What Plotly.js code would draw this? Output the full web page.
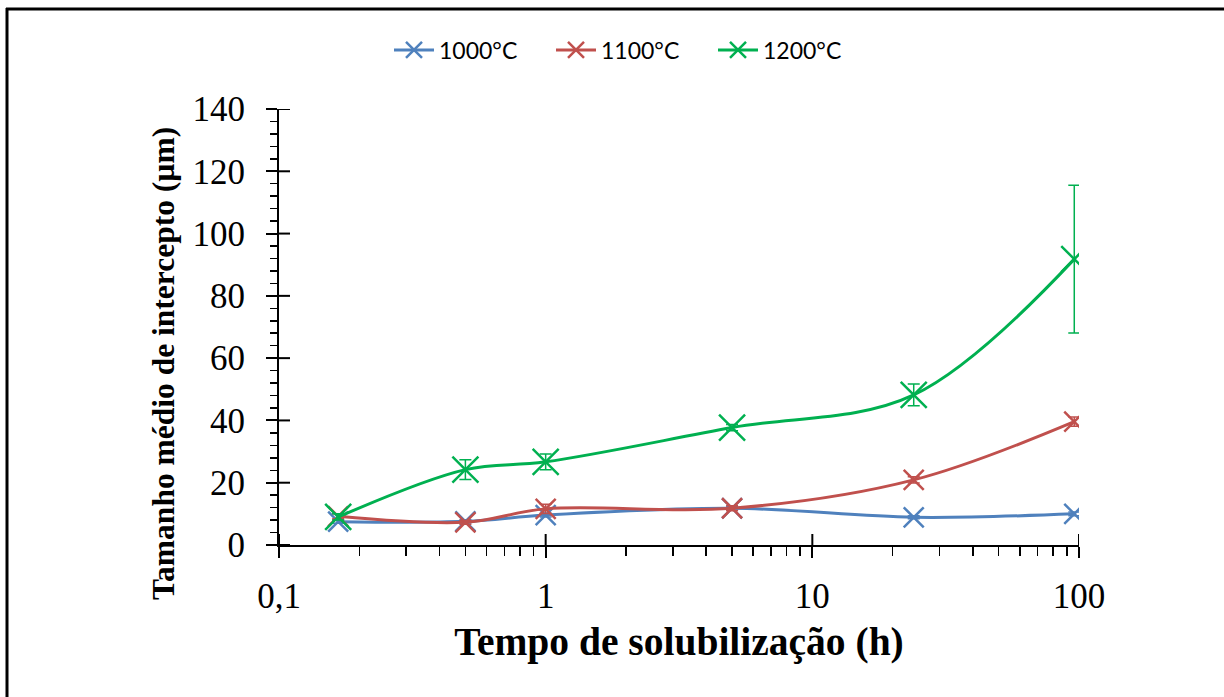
<!DOCTYPE html>
<html>
<head>
<meta charset="utf-8">
<script src="https://cdn.plot.ly/plotly-3.0.1.min.js"></script>
<style>
html,body{margin:0;padding:0;background:#fff;}
#chart{width:1224px;height:697px;}
</style>
</head>
<body>
<div id="chart"></div>
<script>
// Data
var seriesNames = ["1000°C", "1100°C", "1200°C"];
var tempoHoras = [0.1667, 0.5, 1, 5, 24, 96];
var tamanho1000 = [7.5, 7.6, 9.6, 11.8, 8.9, 10.0];
var tamanho1100 = [9.2, 7.3, 11.6, 11.8, 20.9, 39.6];
var tamanho1200 = [9.0, 24.2, 26.7, 37.7, 48.2, 91.8];
var erro1000 = [0.5, 0.5, 0.6, 0.6, 0.5, 0.6];
var erro1100 = [0.8, 0.6, 1.5, 0.8, 1.0, 1.5];
var erro1200 = [1.0, 3.2, 2.5, 1.0, 3.5, 23.7];
var xTickVals = [0.1, 1, 10, 100];
var xTickText = ["0,1", "1", "10", "100"];
var yTickVals = [0, 20, 40, 60, 80, 100, 120, 140];
var yTickText = ["0", "20", "40", "60", "80", "100", "120", "140"];
var xTitle = "Tempo de solubilização (h)";
var yTitle = "Tamanho médio de intercepto (µm)";
var colors = ["#4F81BD", "#C0504D", "#00B050"];

var xMinor = [];
[0.1, 1, 10].forEach(function(d){ for (var k = 2; k <= 9; k++) xMinor.push(d * k); });

var W = 1224, H = 697, L = 279, R = 145, T = 109, B = 152;
var pw = W - L - R, ph = H - T - B;
function px2paperX(p){ return (p - L) / pw; }
function px2paperY(p){ return (H - B - p) / ph; }

function mk(name, y, err, color, msize) {
  return {
    type: "scatter", mode: "lines+markers", name: name,
    x: tempoHoras, y: y,
    line: {color: color, width: 3, shape: "spline", smoothing: 1},
    marker: {symbol: "x-thin-open", size: msize, color: color, line: {color: color, width: 2.5}},
    error_y: {type: "data", array: err, visible: true, color: color, thickness: 1.5, width: 6}
  };
}

var data = [
  mk(seriesNames[0], tamanho1000, erro1000, colors[0], 20),
  mk(seriesNames[1], tamanho1100, erro1100, colors[1], 20),
  mk(seriesNames[2], tamanho1200, erro1200, colors[2], 26)
];

// inside halves of the major ticks (Excel-style "cross" ticks), placed on the axis scales
var INNER = 11;
var shapes = [];
xTickVals.forEach(function(v){
  shapes.push({type: "line", xref: "x", yref: "paper", x0: v, x1: v,
    y0: 0, y1: INNER / ph, line: {color: "#000", width: 2}, layer: "above"});
});
yTickVals.forEach(function(v){
  shapes.push({type: "line", xref: "paper", yref: "y", x0: 0, x1: INNER / pw,
    y0: v, y1: v, line: {color: "#000", width: 2}, layer: "above"});
});
// outer frame (left and top edges)
shapes.push({type: "line", xref: "paper", yref: "paper", x0: px2paperX(7), x1: px2paperX(7), y0: px2paperY(8), y1: px2paperY(H + 5), line: {color: "#000", width: 3}});
shapes.push({type: "line", xref: "paper", yref: "paper", x0: px2paperX(6), x1: px2paperX(W + 5), y0: px2paperY(9), y1: px2paperY(9), line: {color: "#000", width: 3}});

var serif = "Liberation Serif, Times New Roman, serif";
var layout = {
  width: W, height: H,
  margin: {l: L, r: R, t: T, b: B, pad: 0},
  paper_bgcolor: "#fff", plot_bgcolor: "rgba(0,0,0,0)",
  showlegend: true,
  legend: {
    orientation: "h", x: px2paperX(389), xanchor: "left",
    y: px2paperY(50), yanchor: "middle",
    font: {family: "Lato, Carlito, sans-serif", size: 23, color: "#000"},
    itemwidth: 40, traceorder: "normal",
    entrywidth: 107, entrywidthmode: "pixels"
  },
  xaxis: {
    type: "log", range: [-1, 2],
    tickmode: "array", tickvals: xTickVals, ticktext: xTickText,
    ticks: "outside", ticklen: 11, tickwidth: 2, tickcolor: "#000",
    minor: {tickmode: "array", tickvals: xMinor, ticks: "outside", ticklen: 9, tickwidth: 1.5, tickcolor: "#000"},
    showline: true, linecolor: "#000", linewidth: 2,
    showgrid: false, zeroline: false,
    tickfont: {family: serif, size: 35, color: "#000"},
    ticklabelstandoff: 8,
    title: {text: "<b>" + xTitle + "</b>", font: {family: serif, size: 39.5, color: "#000"}, standoff: 12},
    automargin: false
  },
  yaxis: {
    range: [0, 140],
    tickmode: "array", tickvals: yTickVals, ticktext: yTickText,
    ticks: "outside", ticklen: 11, tickwidth: 2, tickcolor: "#000",
    minor: {dtick: 4, ticks: "outside", ticklen: 7, tickwidth: 1.5, tickcolor: "#000"},
    showline: true, linecolor: "#000", linewidth: 2,
    showgrid: false, zeroline: false,
    tickfont: {family: serif, size: 35, color: "#000"},
    ticklabelstandoff: 14,
    automargin: false
  },
  annotations: [
    {text: "<b>" + yTitle + "</b>", textangle: -90, xref: "paper", yref: "paper",
     x: px2paperX(163), y: px2paperY(364), xanchor: "center", yanchor: "middle", showarrow: false,
     font: {family: serif, size: 31.5, color: "#000"}}
  ],
  shapes: shapes
};

Plotly.newPlot("chart", data, layout, {displayModeBar: false, staticPlot: true});
</script>
</body>
</html>
